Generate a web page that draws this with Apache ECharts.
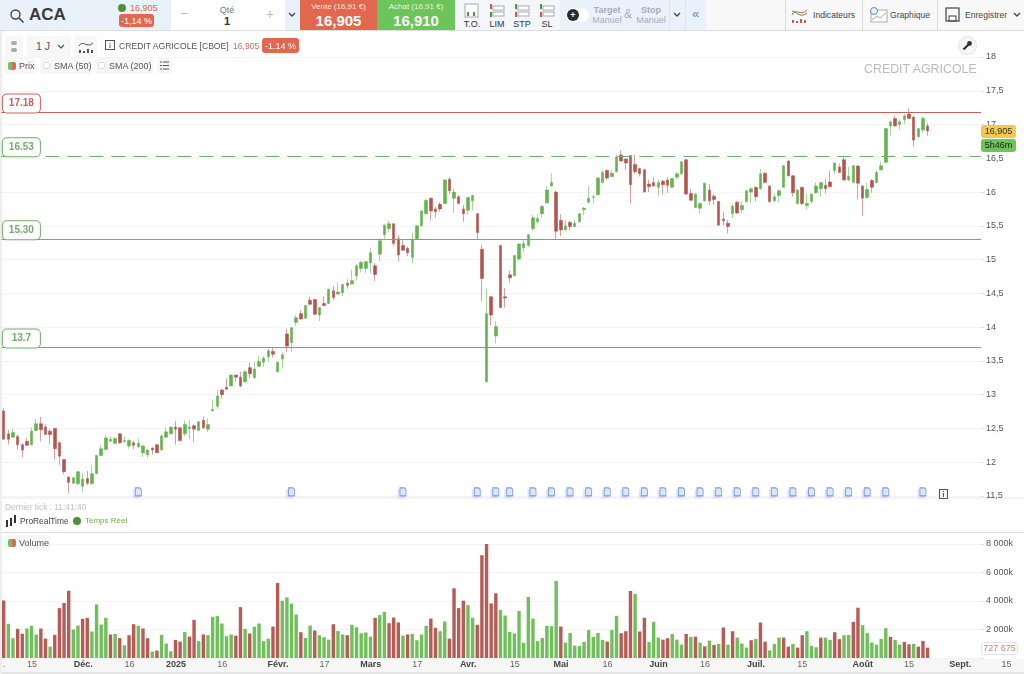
<!DOCTYPE html>
<html>
<head>
<meta charset="utf-8">
<title>CREDIT AGRICOLE</title>
<script src="https://cdn.jsdelivr.net/npm/echarts@6/dist/echarts.min.js"></script>
<style>
  html, body { margin: 0; padding: 0; background: #fff; overflow: hidden; }
  body { width: 1024px; height: 674px; position: relative; font-family: "Liberation Sans", Arial, sans-serif; color: #444; }
  #chart { position: absolute; left: 0; top: 0; width: 1024px; height: 674px; z-index: 2; }
  .box { position: absolute; box-sizing: border-box; }
  .t { position: absolute; white-space: nowrap; font-size: 9px; line-height: 12px; z-index: 3; }
  .c { text-align: center; }
  .btn { background: #f7f7f7; border-radius: 3px; z-index: 3; }
  .under { z-index: 1; }
  .over { z-index: 3; }
  svg { position: absolute; z-index: 3; }
</style>
</head>
<body>
<!-- bandeau du haut -->
<div class="box over" style="left:0;top:0;width:1024px;height:31px;background:#f8f8f8;border-bottom:1px solid #ddd"></div>
<div class="box over" style="left:0;top:0;width:171px;height:30px;background:#e9f1fb"></div>
<div class="box over" style="left:171px;top:0;width:114px;height:30px;background:#fff"></div>
<div class="box over" style="left:285px;top:0;width:15px;height:30px;background:#e9f1fb"></div>
<div class="box over" style="left:300px;top:0;width:77px;height:30px;background:#e2674f"></div>
<div class="box over" style="left:377px;top:0;width:78px;height:30px;background:#6cc45a"></div>
<div class="box over" style="left:455px;top:0;width:105px;height:30px;background:#f3f6fa"></div>
<div class="box over" style="left:560px;top:0;width:146px;height:30px;background:#e9f1fb"></div>
<div class="box over" style="left:785px;top:0;width:1px;height:30px;background:#ddd"></div>
<div class="box over" style="left:862px;top:0;width:1px;height:30px;background:#ddd"></div>
<div class="box over" style="left:937px;top:0;width:1px;height:30px;background:#ddd"></div>

<svg style="left:9px;top:8px" width="16" height="16" viewBox="0 0 16 16"><circle cx="6.5" cy="6.5" r="4.5" fill="none" stroke="#444" stroke-width="1.4"/><path d="M10 10l4.5 4.5" stroke="#444" stroke-width="1.6"/></svg>
<span class="t" style="left:29px;top:5px;font-size:17px;line-height:20px;font-weight:bold;color:#3a3a3a">ACA</span>
<div class="box over" style="left:118px;top:4px;width:8px;height:8px;border-radius:50%;background:#4f8f35"></div>
<span class="t" style="left:130px;top:2px;font-size:9px;color:#d9695a">16,905</span>
<div class="box over" style="left:119px;top:14px;width:35px;height:13px;border-radius:3px;background:#e2674f"></div>
<span class="t c" style="left:119px;top:15px;width:35px;color:#fff">-1,14 %</span>
<span class="t" style="left:180px;top:7px;font-size:14px;color:#bbb">&minus;</span>
<span class="t c" style="left:212px;top:4px;width:30px;color:#777">Qté</span>
<span class="t c" style="left:212px;top:15px;width:30px;font-size:11px;font-weight:bold;color:#333">1</span>
<span class="t" style="left:266px;top:8px;font-size:14px;color:#bbb">+</span>
<svg style="left:288px;top:12px" width="8" height="6"><path d="M1 1l3 3 3-3" fill="none" stroke="#444" stroke-width="1.3"/></svg>
<span class="t c" style="left:300px;top:1px;width:77px;font-size:8px;color:#fbe2dc">Vente (16,91 €)</span>
<span class="t c" style="left:300px;top:12px;width:77px;font-size:15px;line-height:18px;font-weight:bold;color:#fff">16,905</span>
<span class="t c" style="left:377px;top:1px;width:78px;font-size:8px;color:#e5f6df">Achat (16,91 €)</span>
<span class="t c" style="left:377px;top:12px;width:78px;font-size:15px;line-height:18px;font-weight:bold;color:#fff">16,910</span>

<svg style="left:464px;top:3px" width="16" height="15"><rect x="1" y="1" width="13" height="13" fill="#fff" stroke="#aaa"/><path d="M4 9v4M10 9v4" stroke="#4a9a35" stroke-width="2"/></svg>
<svg style="left:489px;top:3px" width="16" height="15"><rect x="4" y="3" width="11" height="4" fill="#fff" stroke="#aaa"/><rect x="4" y="9" width="11" height="4" fill="#fff" stroke="#aaa"/><path d="M2 1v5" stroke="#d9534f" stroke-width="2"/><path d="M2 9v5" stroke="#4a9a35" stroke-width="2"/></svg>
<svg style="left:514px;top:3px" width="16" height="15"><rect x="4" y="3" width="11" height="4" fill="#fff" stroke="#aaa"/><rect x="4" y="9" width="11" height="4" fill="#fff" stroke="#aaa"/><path d="M2 1v5" stroke="#4a9a35" stroke-width="2"/><path d="M2 9v5" stroke="#d9534f" stroke-width="2"/></svg>
<svg style="left:539px;top:3px" width="16" height="15"><rect x="4" y="3" width="11" height="4" fill="#fff" stroke="#aaa"/><rect x="4" y="9" width="11" height="4" fill="#fff" stroke="#aaa"/><path d="M2 1v5" stroke="#4a9a35" stroke-width="2"/><path d="M2 9v5" stroke="#d9534f" stroke-width="2"/></svg>
<span class="t c" style="left:457px;top:18px;width:30px;color:#333">T.O.</span>
<span class="t c" style="left:482px;top:18px;width:30px;color:#333">LIM</span>
<span class="t c" style="left:507px;top:18px;width:30px;color:#333">STP</span>
<span class="t c" style="left:532px;top:18px;width:30px;color:#333">SL</span>

<div class="box over" style="left:566px;top:8px;width:23px;height:14px;border-radius:7px;background:#fff"></div>
<div class="box over" style="left:567px;top:9px;width:12px;height:12px;border-radius:50%;background:#2b2b2b"></div>
<span class="t c" style="left:567px;top:9px;width:12px;color:#fff;font-weight:bold">+</span>
<span class="t c" style="left:592px;top:4px;width:30px;font-weight:bold;color:#aab">Target</span>
<span class="t c" style="left:592px;top:14px;width:30px;color:#aab">Manuel</span>
<span class="t c" style="left:622px;top:8px;width:12px;font-size:12px;color:#aab">&amp;</span>
<span class="t c" style="left:636px;top:4px;width:30px;font-weight:bold;color:#aab">Stop</span>
<span class="t c" style="left:636px;top:14px;width:30px;color:#aab">Manuel</span>
<div class="box over" style="left:669px;top:0;width:1px;height:30px;background:#dbe4ef"></div>
<div class="box over" style="left:685px;top:0;width:1px;height:30px;background:#dbe4ef"></div>
<svg style="left:673px;top:12px" width="8" height="6"><path d="M1 1l3 3 3-3" fill="none" stroke="#444" stroke-width="1.3"/></svg>
<span class="t c" style="left:685px;top:8px;width:21px;font-size:13px;color:#5b86e0">«</span>

<svg style="left:791px;top:6px" width="18" height="18"><path d="M1 9c4-8 8 2 15-5" fill="none" stroke="#d9534f"/><path d="M1 5c4 0 8 8 15 2" fill="none" stroke="#4a9a35"/><path d="M2 17v-3M6 17v-2M10 17v-4M14 17v-3" stroke="#d9534f" stroke-width="2"/></svg>
<span class="t" style="left:813px;top:9px;font-size:8.6px;color:#444">Indicateurs</span>
<svg style="left:869px;top:6px" width="20" height="18"><rect x="2" y="4" width="16" height="12" fill="#fff" stroke="#aaa"/><path d="M3 14l5-4 3 2 6-5" fill="none" stroke="#aaa"/><circle cx="5" cy="5" r="3.5" fill="#e9f1fb" stroke="#5b86e0"/></svg>
<span class="t" style="left:890px;top:9px;font-size:8.6px;color:#444">Graphique</span>
<svg style="left:945px;top:7px" width="16" height="16"><rect x="1" y="1" width="13" height="13" fill="none" stroke="#444" stroke-width="1.2"/><rect x="4" y="9" width="7" height="5" fill="none" stroke="#444"/></svg>
<span class="t" style="left:965px;top:9px;font-size:8.6px;color:#444">Enregistrer</span>
<svg style="left:1013px;top:12px" width="8" height="6"><path d="M1 1l3 3 3-3" fill="none" stroke="#444" stroke-width="1.3"/></svg>

<!-- ligne titre et legendes -->
<div class="box btn" style="left:5px;top:36px;width:18px;height:21px"></div>
<svg style="left:11px;top:41px" width="6" height="11"><rect x="0" y="0" width="6" height="4" rx="2" fill="#aaa"/><rect x="0" y="7" width="6" height="4" rx="2" fill="#aaa"/></svg>
<div class="box btn" style="left:27px;top:36px;width:44px;height:21px"></div>
<span class="t" style="left:36px;top:40px;font-size:10.5px;color:#555">1 J</span>
<svg style="left:57px;top:44px" width="8" height="6"><path d="M1 1l3 3 3-3" fill="none" stroke="#555" stroke-width="1.2"/></svg>
<div class="box btn" style="left:75px;top:36px;width:22px;height:21px"></div>
<svg style="left:78px;top:39px" width="16" height="15"><path d="M1 7c4-7 8 3 14-3" fill="none" stroke="#555"/><path d="M2 14v-3M6 14v-2M10 14v-4M14 14v-3" stroke="#555" stroke-width="2"/></svg>
<svg style="left:105px;top:40px" width="11" height="11"><rect x="0.5" y="0.5" width="9" height="9" fill="none" stroke="#555"/><path d="M5 3v1M5 5v3" stroke="#555"/></svg>
<span class="t" style="left:119px;top:40px;font-size:8.6px;color:#555">CREDIT AGRICOLE [CBOE]</span>
<span class="t" style="left:233px;top:40px;font-size:8.6px;color:#d9695a">16,905</span>
<div class="box over" style="left:262px;top:38px;width:37px;height:15px;border-radius:3px;background:#e2674f"></div>
<span class="t c" style="left:262px;top:40px;width:37px;color:#fff">-1.14 %</span>

<div class="box btn" style="left:4px;top:58px;width:32px;height:16px"></div>
<div class="box over" style="left:8px;top:62px;width:4px;height:8px;background:#6cc45a;border-radius:2px 0 0 2px"></div>
<div class="box over" style="left:12px;top:62px;width:4px;height:8px;background:#d9695a;border-radius:0 2px 2px 0"></div>
<span class="t" style="left:19px;top:60px;color:#555">Prix</span>
<div class="box btn" style="left:40px;top:58px;width:52px;height:16px"></div>
<div class="box over" style="left:43px;top:62px;width:7px;height:7px;border:1px solid #ddd;border-radius:2px;background:#fff"></div>
<span class="t" style="left:54px;top:60px;color:#555">SMA (50)</span>
<div class="box btn" style="left:95px;top:58px;width:58px;height:16px"></div>
<div class="box over" style="left:98px;top:62px;width:7px;height:7px;border:1px solid #ddd;border-radius:2px;background:#fff"></div>
<span class="t" style="left:109px;top:60px;color:#555">SMA (200)</span>
<div class="box btn" style="left:157px;top:58px;width:15px;height:16px"></div>
<svg style="left:160px;top:61px" width="10" height="9"><path d="M0 1h2M3 1h6M0 4.5h2M3 4.5h6M0 8h2M3 8h6" stroke="#555"/></svg>

<div class="box over" style="left:958px;top:36px;width:19px;height:19px;border-radius:50%;background:#f6f6f6;border:1px solid #e5e5e5"></div>
<svg style="left:962px;top:40px" width="11" height="11"><path d="M1.5 9.5l5-5" stroke="#333" stroke-width="2.2"/><circle cx="7.5" cy="3.5" r="2.4" fill="#333"/></svg>
<span class="t" style="left:864px;top:62px;font-size:12.4px;line-height:15px;color:#bbb">CREDIT AGRICOLE</span>
<svg style="left:939px;top:489px" width="9" height="10"><rect x="0.5" y="0.5" width="8" height="9" fill="#f5f5f5" stroke="#555"/><path d="M4.5 2v1M4.5 4v4" stroke="#555"/></svg>

<!-- etiquettes a droite -->
<div class="box over" style="left:981px;top:125px;width:35px;height:13px;border-radius:3px;background:#f2c94c"></div>
<span class="t c" style="left:981px;top:125px;width:35px;color:#333">16,905</span>
<div class="box over" style="left:981px;top:139px;width:35px;height:13px;border-radius:3px;background:#6cc45a"></div>
<span class="t c" style="left:981px;top:139px;width:35px;color:#222">5h46m</span>
<div class="box over" style="left:981px;top:642px;width:37px;height:13px;border-radius:3px;background:#fff;border:1px solid #e3e3e3"></div>
<span class="t c" style="left:981px;top:642px;width:37px;color:#d08078">727 675</span>

<!-- bas du panneau prix -->
<div class="box under" style="left:0;top:497px;width:1024px;height:2px;background:#f4f4f4"></div>
<span class="t" style="left:5px;top:501px;font-size:8.4px;color:#c2c2c2">Dernier tick : 11:41:40</span>
<svg style="left:5px;top:514px" width="13" height="13"><path d="M2 6v7M6 4v8M10 1v8" stroke="#333" stroke-width="2"/></svg>
<span class="t" style="left:20px;top:515px;font-size:8.4px;color:#444">ProRealTime</span>
<div class="box over" style="left:73px;top:517px;width:8px;height:8px;border-radius:50%;background:#4f8f35"></div>
<span class="t" style="left:85px;top:515px;font-size:8px;color:#6db050">Temps Réel</span>
<div class="box under" style="left:0;top:532px;width:1024px;height:1px;background:#ddd"></div>
<div class="box btn" style="left:4px;top:535px;width:46px;height:15px"></div>
<div class="box over" style="left:8px;top:539px;width:4px;height:8px;background:#6cc45a;border-radius:2px 0 0 2px"></div>
<div class="box over" style="left:12px;top:539px;width:4px;height:8px;background:#d9695a;border-radius:0 2px 2px 0"></div>
<span class="t" style="left:19px;top:537px;color:#555">Volume</span>

<div class="box under" style="left:0;top:659px;width:1024px;height:13px;background:#f6f6f6"></div>
<div class="box under" style="left:0;top:672px;width:1024px;height:2px;background:#e4e4e4"></div>
<div class="box under" style="left:0;top:31px;width:2px;height:643px;background:#eee"></div>

<div id="chart"></div>

<script>
const instrument = "CREDIT AGRICOLE";

const opens = [
  12.76,12.42,12.37,12.38,12.26,12.31,12.26,12.47,12.57,12.52,12.46,12.50,12.29,12.04,11.78,11.69,11.68,11.64,11.76,11.68,
  11.83,12.10,12.19,12.31,12.28,12.42,12.31,12.24,12.29,12.23,12.14,12.11,12.21,12.26,12.18,12.37,12.42,12.52,12.51,12.42,
  12.50,12.54,12.47,12.62,12.49,12.76,12.83,13.07,13.11,13.13,13.29,13.26,13.19,13.40,13.25,13.42,13.48,13.56,13.64,13.34,
  13.53,13.90,13.77,14.07,14.20,14.13,14.40,14.41,14.18,14.35,14.35,14.54,14.49,14.51,14.65,14.64,14.76,14.87,14.87,14.95,
  14.91,15.08,15.37,15.46,15.53,15.31,15.21,15.17,15.03,15.31,15.50,15.68,15.91,15.75,15.82,15.83,16.19,15.91,15.93,15.75,
  15.73,15.87,15.68,15.155,13.19,14.45,13.87,15.21,14.45,14.775,14.76,15.01,15.175,15.21,15.46,15.56,15.68,15.84,16.09,16.00,
  15.58,15.44,15.55,15.49,15.56,15.74,15.85,15.92,15.96,16.14,16.32,16.23,16.30,16.55,16.49,16.54,16.41,16.35,16.33,16.12,
  16.14,16.07,16.16,16.18,16.07,16.22,16.27,16.48,15.98,15.77,15.76,15.87,16.03,15.94,15.86,15.60,15.54,15.68,15.85,15.74,
  15.86,16.00,16.07,16.05,16.28,16.09,15.87,15.95,16.07,16.46,16.24,15.83,16.07,15.80,15.86,15.99,16.05,16.10,16.15,16.32,
  16.37,16.48,16.18,16.14,16.385,16.09,15.92,16.17,16.14,16.33,16.44,16.98,17.09,17.00,17.07,17.155,17.11,16.82,16.92,16.98
];
const closes = [
  12.34,12.34,12.44,12.26,12.18,12.25,12.46,12.57,12.48,12.41,12.41,12.20,12.09,11.86,11.70,11.77,11.86,11.75,11.69,11.83,
  12.10,12.20,12.36,12.34,12.35,12.29,12.32,12.32,12.25,12.28,12.24,12.18,12.18,12.14,12.39,12.45,12.52,12.49,12.32,12.56,
  12.52,12.49,12.60,12.51,12.56,12.78,12.98,13.00,13.08,13.29,13.26,13.13,13.34,13.31,13.38,13.49,13.54,13.65,13.60,13.48,
  13.59,13.72,13.99,14.14,14.12,14.32,14.34,14.19,14.29,14.32,14.56,14.44,14.52,14.63,14.62,14.69,14.91,14.96,14.97,15.10,
  14.78,15.28,15.51,15.53,15.24,15.07,15.14,15.10,15.29,15.50,15.72,15.88,15.72,15.71,15.75,16.18,16.02,16.00,15.83,15.68,
  15.92,15.95,15.40,14.72,14.20,14.18,14.01,14.29,14.43,14.73,15.06,15.23,15.24,15.37,15.62,15.61,15.79,16.03,16.14,15.42,
  15.44,15.50,15.49,15.54,15.68,15.76,15.91,15.93,16.21,16.29,16.21,16.28,16.52,16.46,16.43,16.11,16.30,16.27,16.00,16.08,
  16.09,16.14,16.11,16.10,16.20,16.27,16.45,15.97,15.88,15.97,15.83,16.13,15.87,15.89,15.51,15.575,15.49,15.79,15.69,15.80,
  16.02,16.05,15.93,16.27,16.14,15.86,15.93,16.02,16.39,16.24,15.99,16.03,15.83,15.83,15.97,16.09,16.14,16.05,16.08,16.43,
  16.29,16.18,16.23,16.39,16.13,15.91,16.04,16.07,16.29,16.39,16.94,17.04,16.98,17.04,17.13,17.09,16.77,16.94,17.09,16.905
];
const lows = [
  12.34,12.26,12.37,12.19,12.07,12.24,12.25,12.46,12.31,12.41,12.26,12.04,11.96,11.82,11.54,11.68,11.66,11.56,11.66,11.68,
  11.83,12.09,12.18,12.30,12.27,12.27,12.28,12.20,12.19,12.21,12.08,12.06,12.11,12.14,12.18,12.36,12.42,12.26,12.30,12.38,
  12.34,12.30,12.47,12.49,12.45,12.76,12.79,12.94,13.08,13.13,13.19,13.11,13.18,13.25,13.24,13.41,13.41,13.49,13.55,13.33,
  13.39,13.63,13.63,14.02,14.11,14.12,14.32,14.18,14.09,14.31,14.34,14.40,14.47,14.46,14.57,14.63,14.69,14.82,14.80,14.80,
  14.68,14.98,15.31,15.41,15.20,14.97,15.13,15.05,14.95,15.30,15.49,15.67,15.58,15.62,15.71,15.83,15.97,15.69,15.82,15.56,
  15.66,15.73,15.30,14.375,13.19,14.03,13.76,14.29,14.29,14.66,14.755,14.98,15.11,15.19,15.43,15.54,15.62,15.83,16.08,15.30,
  15.35,15.43,15.43,15.48,15.545,15.66,15.83,15.83,15.955,16.13,16.18,16.22,16.29,16.45,16.33,15.83,16.27,16.23,16.00,16.00,
  16.08,15.94,15.96,15.99,16.06,16.19,16.26,15.96,15.87,15.76,15.68,15.86,15.81,15.81,15.51,15.505,15.39,15.61,15.68,15.69,
  15.84,15.84,15.86,16.04,16.13,15.84,15.85,15.85,16.06,16.23,15.93,15.82,15.81,15.74,15.83,15.97,15.93,15.98,16.07,16.27,
  16.28,16.17,16.16,16.14,15.89,15.65,15.90,15.99,16.13,16.32,16.43,16.84,16.97,16.92,17.01,17.08,16.67,16.81,16.88,16.835
];
const highs = [
  12.80,12.48,12.50,12.41,12.28,12.36,12.51,12.64,12.67,12.56,12.49,12.51,12.31,12.04,11.79,11.79,11.87,11.84,11.87,11.95,
  12.10,12.26,12.40,12.38,12.37,12.43,12.38,12.34,12.31,12.35,12.26,12.19,12.22,12.27,12.42,12.52,12.53,12.61,12.52,12.62,
  12.63,12.56,12.61,12.68,12.65,12.93,13.07,13.09,13.24,13.31,13.30,13.34,13.36,13.48,13.49,13.58,13.57,13.68,13.69,13.49,
  13.63,13.98,14.00,14.18,14.25,14.33,14.45,14.42,14.30,14.46,14.57,14.61,14.65,14.64,14.71,14.85,14.93,14.98,14.98,15.17,
  14.95,15.31,15.52,15.575,15.54,15.36,15.29,15.19,15.40,15.51,15.73,15.89,15.92,15.78,15.85,16.19,16.22,16.05,15.955,15.81,
  15.93,15.955,15.69,15.22,14.57,14.46,14.09,15.21,14.58,14.84,15.07,15.24,15.30,15.38,15.66,15.67,15.80,16.09,16.28,16.02,
  15.67,15.585,15.575,15.585,15.69,15.78,16.09,15.965,16.22,16.32,16.335,16.325,16.56,16.62,16.50,16.55,16.55,16.36,16.34,16.18,
  16.23,16.18,16.18,16.22,16.21,16.30,16.46,16.49,16.05,15.98,15.84,16.14,16.12,15.97,15.87,15.71,15.585,15.83,15.87,15.86,
  16.03,16.07,16.08,16.34,16.29,16.10,15.97,16.04,16.40,16.47,16.25,16.04,16.08,15.98,15.98,16.14,16.15,16.19,16.32,16.44,
  16.42,16.52,16.375,16.40,16.40,16.10,16.13,16.19,16.32,16.45,16.95,17.06,17.13,17.08,17.15,17.24,17.12,16.95,17.12,17.02
];

// Volumes en milliers, G = barre verte, R = barre rouge
const volumes = [
  4040,2400,1390,2050,1700,2070,2260,1650,2070,1360,800,1620,3500,3860,4720,2000,2280,2750,2820,1860,
  3760,2350,2820,1650,1690,1390,890,1600,2370,2260,2070,1390,450,520,1620,1010,470,1270,1150,1830,
  1500,2680,1180,1650,1600,2890,2940,2420,1530,1650,1570,3570,2040,1720,2190,2420,1180,1360,2210,5260,
  4020,4250,3810,3050,1810,1410,2280,1930,1600,1460,1290,2370,1900,1650,1600,2330,2160,1740,1790,1500,
  2820,3010,3240,2440,2840,2490,1570,1650,1690,1250,1650,2260,2770,2120,1880,2560,1360,4890,3500,4020,
  3710,2820,2330,7210,8000,3830,4540,3380,2980,1830,1720,3310,1060,4280,2770,1180,1410,2260,2230,5400,
  2210,1080,1760,870,850,1130,1970,1480,1760,1270,1150,1970,2960,1740,1880,4700,4490,1860,2820,1130,
  2540,1430,1290,1390,1690,1290,940,1690,1480,1500,1080,820,1220,920,990,2140,940,1880,1430,1010,
  730,1250,1340,2490,1150,540,990,1430,1430,800,990,730,1600,1880,850,750,1430,1430,1270,1810,
  1320,1600,1620,2540,3530,2300,1760,1080,940,1340,2090,1480,1270,940,1130,960,990,800,1200,728
];
const volumeSides =
  "RGGRRGGGRRGRRRRGGRRGGGGRGRGRRGRRGRGGGRRGRRGRGGGGGGRRGRGGGGRR" +
  "GGGGRGGRGGGRGGRGGGGGRGGRRRGRGGGGRRGGRRRRGGRRRRRGGGGGGGGGGGGG" +
  "RGGGGGGGGGRGGRRRGRRGGGRRGGGRGRGRGRGRGRGGGRGRRGGGRRGRRGGGRGGR" +
  "RGGRRGGGGGGRGGRRGR";

// Niveaux traces a la main sur le graphique
const levels = [17.18, 16.53, 15.30, 13.7];
const levelLabels = ["17.18", "16.53", "15.30", "13.7"];
const levelColors = ["#c9605a", "#70ad6c", "#70ad6c", "#70ad6c"];
const levelDashed = [false, true, false, false];

// Notes d'actualite, par numero de barre
const newsBars = [29,62,86,102,106,109,114,118,122,126,130,134,138,142,146,150,154,158,162,166,170,174,178,182,186,190,198];

const priceCount = 211;
const labelCount = 220;
const timeLabels = {
  0: ".", 6: "15", 17: "Déc.", 27: "16", 37: "2025", 47: "16", 59: "Févr.", 69: "17", 79: "Mars", 89: "17", 100: "Avr.",
  110: "15", 120: "Mai", 130: "16", 141: "Juin", 151: "16", 162: "Juil.", 172: "15", 185: "Août", 195: "15", 206: "Sept.", 216: "15"
};

const upFill = "#63b34f";
const downFill = "#b5534f";
const upWick = "rgba(99,179,79,0.55)";
const downWick = "rgba(181,83,79,0.55)";
const newsIcon = "path://M0 0h12l4 4v16H0z";

const priceCats = Array.from({ length: priceCount }, (_, i) => i);
const labelCats = Array.from({ length: labelCount }, (_, i) => i);
const candles = opens.map((o, i) => [o, closes[i], lows[i], highs[i]]);

const myChart = echarts.init(document.getElementById("chart"));

const option = {
  animation: false,
  textStyle: { fontFamily: "Liberation Sans, Arial, sans-serif" },
  grid: [
    { left: 1.38, width: 979.6, top: 57, height: 439 },
    { left: 1.38, width: 979.6, top: 544, height: 114 },
    { left: 1.38, width: 1021.4, top: 658, height: 14 }
  ],
  xAxis: [
    { type: "category", gridIndex: 0, data: priceCats, axisLine: { show: false }, axisTick: { show: false }, axisLabel: { show: false } },
    { type: "category", gridIndex: 1, data: priceCats, axisLine: { show: false }, axisTick: { show: false }, axisLabel: { show: false } },
    {
      type: "category",
      gridIndex: 2,
      data: labelCats,
      position: "bottom",
      axisLine: { show: false },
      axisTick: { show: false },
      axisLabel: {
        interval: 0,
        margin: -12,
        fontSize: 9,
        color: "#666",
        formatter: (v) => {
          const t = timeLabels[v] || "";
          return /^[0-9]{2}$/.test(t) || t === "." ? t : t && "{b|" + t + "}";
        },
        rich: { b: { fontWeight: "bold", fontSize: 9, color: "#444" } }
      }
    }
  ],
  yAxis: [
    {
      type: "value",
      gridIndex: 0,
      position: "right",
      min: 11.5,
      max: 18,
      interval: 0.5,
      axisLine: { show: false },
      axisTick: { show: true, length: 3, lineStyle: { color: "#ddd" } },
      splitLine: { lineStyle: { color: "#f4f4f4" } },
      axisLabel: {
        align: "left",
        margin: 5,
        fontSize: 9,
        color: "#555",
        formatter: (v) => String(v).replace(".", ",")
      }
    },
    {
      type: "value",
      gridIndex: 1,
      position: "right",
      min: 0,
      max: 8000,
      interval: 2000,
      axisLine: { show: false },
      axisTick: { show: true, length: 3, lineStyle: { color: "#ddd" } },
      splitLine: { lineStyle: { color: "#f4f4f4" } },
      axisLabel: {
        align: "left",
        margin: 5,
        fontSize: 9,
        color: "#555",
        formatter: (v) => (v === 0 ? "" : v / 1000 + " 000k")
      }
    },
    { type: "value", gridIndex: 2, min: 0, max: 1, show: false }
  ],
  series: [
    {
      type: "candlestick",
      name: instrument,
      xAxisIndex: 0,
      yAxisIndex: 0,
      barWidth: 3,
      data: candles,
      itemStyle: { color: upFill, color0: downFill, borderColor: upWick, borderColor0: downWick, borderWidth: 1 },
      markLine: {
        silent: true,
        symbol: "none",
        animation: false,
        data: levels.map((v, i) => ({
          yAxis: v,
          lineStyle: { color: levelColors[i], width: 1, type: levelDashed[i] ? [14, 8] : "solid" },
          label: {
            show: true,
            position: "insideStartTop",
            distance: [20, 0],
            formatter: levelLabels[i],
            width: 37,
            height: 18,
            lineHeight: 18,
            align: "center",
            verticalAlign: "bottom",
            fontSize: 10,
            fontWeight: "bold",
            color: levelColors[i],
            backgroundColor: "#fff",
            borderColor: levelColors[i],
            borderWidth: 1,
            borderRadius: 4
          }
        }))
      }
    },
    {
      type: "scatter",
      name: "news",
      xAxisIndex: 0,
      yAxisIndex: 0,
      clip: false,
      symbol: newsIcon,
      symbolSize: [6, 8],
      itemStyle: {
        color: "#dfe8fb",
        borderColor: "#5d83e0",
        borderWidth: 1,
        shadowColor: "#d5e0f8",
        shadowOffsetX: -2,
        shadowOffsetY: 2,
        shadowBlur: 0
      },
      data: newsBars.map((b) => [b, 11.56])
    },
    {
      type: "bar",
      name: "Volume",
      xAxisIndex: 1,
      yAxisIndex: 1,
      barWidth: 3.4,
      data: volumes.map((v, i) => ({
        value: v,
        itemStyle: { color: volumeSides[i] === "G" ? "#6fbf5a" : "#b85a55" }
      }))
    }
  ]
};

myChart.setOption(option);
</script>
</body>
</html>
